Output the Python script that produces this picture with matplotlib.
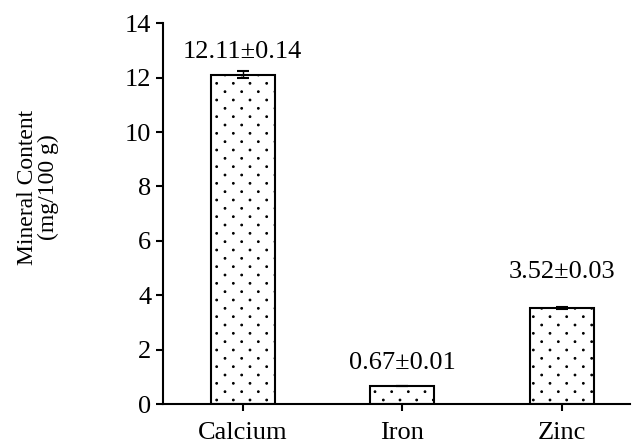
import numpy as np
import matplotlib.pyplot as plt
import matplotlib.hatch as mhatch

minerals = ['Calcium', 'Iron', 'Zinc']
content = [12.11, 0.67, 3.52]
sd = [0.14, 0.01, 0.03]
label_gap = [9, 12, 21]  # points above the error bar


class SparseDots(mhatch.SmallFilledCircles):
    """Dots: n columns per row, 2n staggered rows per hatch unit."""
    size = 0.05

    def __init__(self, hatch, density):
        self.num_rows = hatch.count('.') * density
        circle = mhatch.Path.unit_circle()
        self.shape_vertices = circle.vertices
        self.shape_codes = circle.codes
        n = self.num_rows
        self.num_vertices = ((n + 1) ** 2 + n * n) * len(self.shape_codes) if n else 0

    def set_vertices_and_codes(self, vertices, codes):
        n = self.num_rows
        step = 1.0 / n
        shape = self.shape_vertices * step * self.size
        vparts, cparts = [], []
        for row in range(2 * n + 1):
            if row % 2 == 0:
                cols = np.linspace(0, 1, n + 1)
            else:
                cols = np.linspace(step / 2, 1 - step / 2, n)
            for c in cols:
                vparts.append(shape + [c, row * step / 2])
                cparts.append(self.shape_codes)
        np.concatenate(vparts, out=vertices)
        np.concatenate(cparts, out=codes)


mhatch._hatch_types = [SparseDots if t is mhatch.SmallFilledCircles else t
                       for t in mhatch._hatch_types]

plt.rcParams['font.family'] = 'Liberation Serif'
plt.rcParams['hatch.linewidth'] = 0.8

fig = plt.figure(figsize=(6.34, 4.46), dpi=100)
ax = fig.add_axes([0.257, 0.094, 0.737, 0.854])

x = np.arange(len(minerals))
ax.bar(x, content, width=0.4, color='white', edgecolor='black', linewidth=1.5,
       hatch='.', yerr=sd, capsize=4, error_kw={'elinewidth': 1, 'capthick': 1.5})

for xi, v, e, g in zip(x, content, sd, label_gap):
    ax.annotate(f'{v:.2f}±{e:.2f}', (xi, v + e), xytext=(0, g), textcoords='offset points',
                ha='center', va='baseline', fontsize=19)

ax.set_xlim(-0.5, 2.43)
ax.set_ylim(0, 14)
ax.set_yticks(range(0, 15, 2))
ax.set_xticks(x)
ax.set_xticklabels(minerals)
ax.tick_params(labelsize=19, width=1.5, length=5)
ax.tick_params(axis='x', pad=8)
ax.spines['top'].set_visible(False)
ax.spines['right'].set_visible(False)
ax.spines['left'].set_linewidth(1.5)
ax.spines['bottom'].set_linewidth(1.5)
ax.set_ylabel('Mineral Content\n(mg/100 g)', fontsize=17, linespacing=1.0)
ax.yaxis.set_label_coords(-0.222, 0.57)

fig.savefig('out.png', dpi=100)
